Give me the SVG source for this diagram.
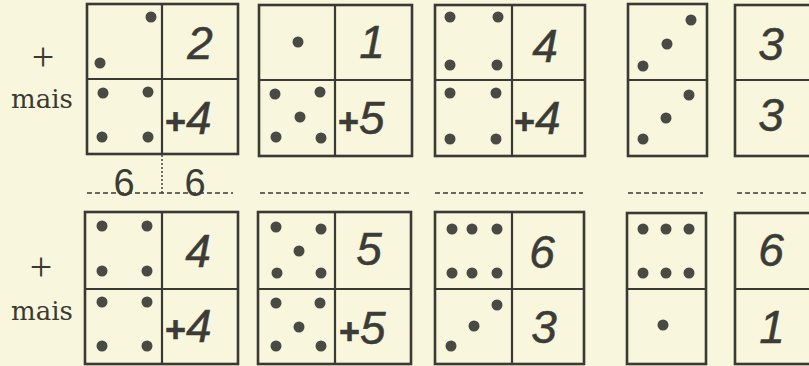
<svg xmlns="http://www.w3.org/2000/svg" width="809" height="366" viewBox="0 0 809 366">
<style>
.box{fill:none;stroke:#3a3a35;stroke-width:2.6}
.div{stroke:#3a3a35;stroke-width:2.2}
.dot{fill:#4a4a45}
.dig{font-family:"Liberation Sans",Arial,sans-serif;font-style:italic;font-size:46px;fill:#3c3c37;stroke:#3c3c37;stroke-width:0.5}
.pl{font-size:36px;font-style:normal;font-weight:bold}
.lbl{font-family:"DejaVu Serif",serif;font-size:26px;fill:#3a3a35}
.plus{font-family:"Liberation Serif",serif;font-size:40px;fill:#3a3a35}
.dash{stroke:#3a3a35;stroke-width:1.6;stroke-dasharray:5 3;fill:none}
.six{font-family:"Liberation Sans",Arial,sans-serif;font-size:38px;fill:#3c3c37}
</style>
<rect width="809" height="366" fill="#f8f6dc"/>

<g id="labels">
<text class="plus" x="43" y="70" text-anchor="middle">+</text>
<text class="lbl" x="11" y="108">mais</text>
<text class="plus" x="41" y="280" text-anchor="middle">+</text>
<text class="lbl" x="11" y="320">mais</text>
</g>

<g id="d1">
<rect class="box" x="87" y="4" width="151" height="150"/>
<line class="div" x1="162" y1="4" x2="162" y2="154"/>
<line class="div" x1="87" y1="79" x2="238" y2="79"/>
<circle class="dot" cx="151" cy="17" r="5.5"/><circle class="dot" cx="100" cy="63" r="5.5"/>
<circle class="dot" cx="103" cy="93" r="5.5"/><circle class="dot" cx="148" cy="92" r="5.5"/>
<circle class="dot" cx="102" cy="137" r="5.5"/><circle class="dot" cx="148" cy="137" r="5.5"/>
<text class="dig" x="200" y="59" text-anchor="middle">2</text>
<text class="dig" x="165" y="134"><tspan class="pl">+</tspan>4</text>
</g>

<g id="d2">
<rect class="box" x="259" y="5" width="153" height="151"/>
<line class="div" x1="335" y1="5" x2="335" y2="156"/>
<line class="div" x1="259" y1="80" x2="412" y2="80"/>
<circle class="dot" cx="298" cy="42" r="5.5"/>
<circle class="dot" cx="275" cy="94" r="5.5"/><circle class="dot" cx="320" cy="92" r="5.5"/>
<circle class="dot" cx="300" cy="117" r="5.5"/>
<circle class="dot" cx="276" cy="137" r="5.5"/><circle class="dot" cx="321" cy="138" r="5.5"/>
<text class="dig" x="372" y="58" text-anchor="middle">1</text>
<text class="dig" x="338" y="134"><tspan class="pl">+</tspan>5</text>
</g>

<g id="d3">
<rect class="box" x="435" y="5" width="150" height="151"/>
<line class="div" x1="512" y1="5" x2="512" y2="156"/>
<line class="div" x1="435" y1="80" x2="585" y2="80"/>
<circle class="dot" cx="450" cy="17" r="5.5"/><circle class="dot" cx="498" cy="17" r="5.5"/>
<circle class="dot" cx="450" cy="65" r="5.5"/><circle class="dot" cx="497" cy="65" r="5.5"/>
<circle class="dot" cx="450" cy="93" r="5.5"/><circle class="dot" cx="496" cy="93" r="5.5"/>
<circle class="dot" cx="450" cy="139" r="5.5"/><circle class="dot" cx="496" cy="139" r="5.5"/>
<text class="dig" x="545" y="62" text-anchor="middle">4</text>
<text class="dig" x="514" y="134"><tspan class="pl">+</tspan>4</text>
</g>

<g id="d4">
<rect class="box" x="628" y="4" width="79" height="152"/>
<line class="div" x1="628" y1="80" x2="707" y2="80"/>
<circle class="dot" cx="691" cy="20" r="5.5"/><circle class="dot" cx="667" cy="44" r="5.5"/><circle class="dot" cx="643" cy="66" r="5.5"/>
<circle class="dot" cx="689" cy="95" r="5.5"/><circle class="dot" cx="666" cy="118" r="5.5"/><circle class="dot" cx="643" cy="139" r="5.5"/>
</g>

<g id="d5">
<rect class="box" x="735" y="5" width="90" height="151"/>
<line class="div" x1="735" y1="80" x2="809" y2="80"/>
<text class="dig" x="771" y="60" text-anchor="middle">3</text>
<text class="dig" x="771" y="131" text-anchor="middle">3</text>
</g>

<g id="separators">
<path class="dash" d="M87 193H233M260 193H412M435 193H583M628 193H703M737 193H809"/>
<line x1="162" y1="155" x2="162" y2="193" stroke="#3a3a35" stroke-width="1.4" stroke-dasharray="2 2"/>
<text class="six" x="124" y="196" text-anchor="middle">6</text>
<text class="six" x="195" y="196" text-anchor="middle">6</text>
</g>

<g id="d6">
<rect class="box" x="85" y="212" width="153" height="152"/>
<line class="div" x1="162" y1="212" x2="162" y2="364"/>
<line class="div" x1="85" y1="289" x2="238" y2="289"/>
<circle class="dot" cx="102" cy="226" r="5.5"/><circle class="dot" cx="147" cy="226" r="5.5"/>
<circle class="dot" cx="102" cy="271" r="5.5"/><circle class="dot" cx="147" cy="271" r="5.5"/>
<circle class="dot" cx="102" cy="302" r="5.5"/><circle class="dot" cx="147" cy="302" r="5.5"/>
<circle class="dot" cx="102" cy="346" r="5.5"/><circle class="dot" cx="147" cy="346" r="5.5"/>
<text class="dig" x="198" y="267" text-anchor="middle">4</text>
<text class="dig" x="165" y="342"><tspan class="pl">+</tspan>4</text>
</g>

<g id="d7">
<rect class="box" x="258" y="212" width="153" height="152"/>
<line class="div" x1="335" y1="212" x2="335" y2="364"/>
<line class="div" x1="258" y1="289" x2="411" y2="289"/>
<circle class="dot" cx="276" cy="227" r="5.5"/><circle class="dot" cx="321" cy="229" r="5.5"/>
<circle class="dot" cx="299" cy="251" r="5.5"/>
<circle class="dot" cx="277" cy="273" r="5.5"/><circle class="dot" cx="321" cy="273" r="5.5"/>
<circle class="dot" cx="276" cy="303" r="5.5"/><circle class="dot" cx="320" cy="303" r="5.5"/>
<circle class="dot" cx="299" cy="327" r="5.5"/>
<circle class="dot" cx="276" cy="346" r="5.5"/><circle class="dot" cx="321" cy="346" r="5.5"/>
<text class="dig" x="369" y="265" text-anchor="middle">5</text>
<text class="dig" x="339" y="344"><tspan class="pl">+</tspan>5</text>
</g>

<g id="d8">
<rect class="box" x="435" y="212" width="149" height="152"/>
<line class="div" x1="512" y1="212" x2="512" y2="364"/>
<line class="div" x1="435" y1="289" x2="584" y2="289"/>
<circle class="dot" cx="452" cy="229" r="5.5"/><circle class="dot" cx="472" cy="229" r="5.5"/><circle class="dot" cx="497" cy="229" r="5.5"/>
<circle class="dot" cx="452" cy="273" r="5.5"/><circle class="dot" cx="472" cy="273" r="5.5"/><circle class="dot" cx="497" cy="273" r="5.5"/>
<circle class="dot" cx="497" cy="305" r="5.5"/><circle class="dot" cx="474" cy="326" r="5.5"/><circle class="dot" cx="451" cy="346" r="5.5"/>
<text class="dig" x="542" y="268" text-anchor="middle">6</text>
<text class="dig" x="544" y="343" text-anchor="middle">3</text>
</g>

<g id="d9">
<rect class="box" x="627" y="213" width="79" height="151"/>
<line class="div" x1="627" y1="289" x2="706" y2="289"/>
<circle class="dot" cx="643" cy="229" r="5.5"/><circle class="dot" cx="666" cy="229" r="5.5"/><circle class="dot" cx="689" cy="229" r="5.5"/>
<circle class="dot" cx="643" cy="273" r="5.5"/><circle class="dot" cx="666" cy="273" r="5.5"/><circle class="dot" cx="689" cy="273" r="5.5"/>
<circle class="dot" cx="663" cy="325" r="5.5"/>
</g>

<g id="d10">
<rect class="box" x="735" y="213" width="90" height="151"/>
<line class="div" x1="735" y1="289" x2="809" y2="289"/>
<text class="dig" x="771" y="266" text-anchor="middle">6</text>
<text class="dig" x="772" y="343" text-anchor="middle">1</text>
</g>
</svg>
